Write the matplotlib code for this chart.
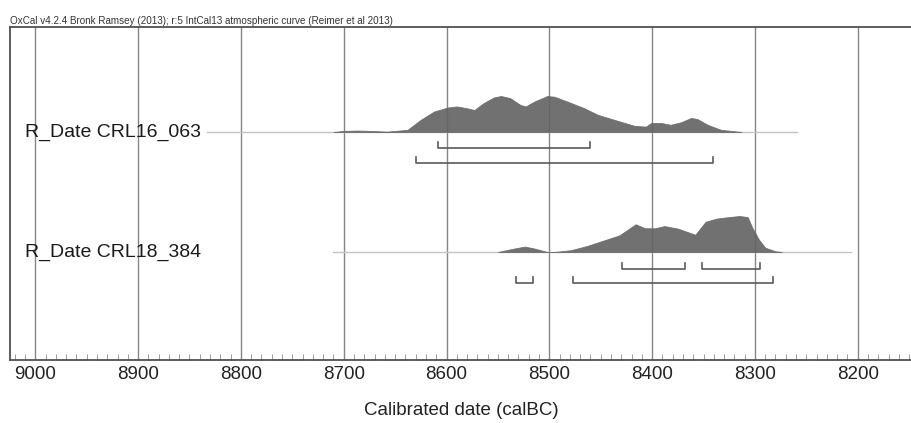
import matplotlib.pyplot as plt
import numpy as np
from matplotlib.ticker import MultipleLocator

plt.rcParams['font.family'] = ['Liberation Sans', 'DejaVu Sans']

title = "OxCal v4.2.4 Bronk Ramsey (2013); r:5 IntCal13 atmospheric curve (Reimer et al 2013)"
names = ["R_Date CRL16_063", "R_Date CRL18_384"]

# outline of each probability distribution (calBC, relative density)
years1 = [8710, 8700, 8687, 8674, 8658, 8638, 8625, 8612, 8599, 8590, 8580, 8573,
          8564, 8554, 8547, 8538, 8528, 8523, 8515, 8502, 8495, 8482, 8466, 8453,
          8437, 8417, 8406, 8401, 8391, 8382, 8372, 8362, 8356, 8346, 8333, 8313]
dens1 = [0, 0.03, 0.04, 0.03, 0.01, 0.06, 0.34, 0.57, 0.68, 0.71, 0.66, 0.61,
         0.80, 0.96, 1.0, 0.94, 0.75, 0.71, 0.84, 1.0, 0.98, 0.84, 0.66, 0.48,
         0.34, 0.17, 0.15, 0.25, 0.25, 0.20, 0.27, 0.39, 0.36, 0.20, 0.06, 0.0]

years2 = [8550, 8537, 8524, 8515, 8502, 8495, 8479, 8463, 8447, 8432, 8416, 8407,
          8397, 8388, 8375, 8366, 8358, 8348, 8337, 8325, 8315, 8307, 8303, 8296,
          8290, 8280, 8274]
dens2 = [0, 0.08, 0.15, 0.10, 0.0, 0.0, 0.05, 0.17, 0.32, 0.46, 0.77, 0.66,
         0.66, 0.72, 0.65, 0.56, 0.48, 0.84, 0.93, 0.97, 1.0, 0.97, 0.70, 0.34,
         0.12, 0.02, 0.0]

# extent of the thin baseline for each date
span1 = (8833, 8259)
span2 = (8710, 8207)

# 68.2% and 95.4% ranges
r68_1 = [(8608, 8460)]
r95_1 = [(8630, 8341)]
r68_2 = [(8429, 8368), (8351, 8295)]
r95_2 = [(8532, 8516), (8477, 8282)]

rows = [(years1, dens1, span1, r68_1, r95_1),
        (years2, dens2, span2, r68_2, r95_2)]

fig = plt.figure(figsize=(9.12, 4.23), dpi=100)
ax = fig.add_axes([10 / 912, 63 / 423, 902 / 912, 333 / 423])

# y axis in pixel-like units, top = 27, bottom = 360
ax.set_ylim(360, 27)
ax.set_xlim(9024.6, 8147.2)

for x in range(8200, 9001, 100):
    ax.axvline(x, color='#858585', lw=1.0, zorder=1)

for i, (yr, d, span, r68, r95) in enumerate(rows):
    base = 132 + 120 * i
    ax.plot(span, [base, base], color='#c4c4c4', lw=1.0, zorder=2)
    yr = np.array(yr)
    d = np.array(d)
    ax.fill_between(yr, base, base - 36 * d, color='#626262', alpha=0.9,
                    lw=0.6, edgecolor='#6a6a6a', zorder=3)
    for off, ranges in ((16.5, r68), (31, r95)):
        for a, b in ranges:
            ax.plot([a, a, b, b], [base + off - 6, base + off, base + off, base + off - 6],
                    color='#5a5a5a', lw=1.2, zorder=4)
    ax.text(9010, base, names[i], fontsize=14, va='center', ha='left',
            color='#1a1a1a', zorder=5)

ax.xaxis.set_major_locator(MultipleLocator(100))
ax.xaxis.set_minor_locator(MultipleLocator(10))
ax.tick_params(axis='x', which='major', length=0, pad=4, labelsize=13.5,
               labelcolor='#222222')
ax.tick_params(axis='x', which='minor', direction='in', length=4, color='#8a8a8a')
ax.set_yticks([])
for s in ['left', 'bottom', 'top']:
    ax.spines[s].set_color('#505050')
    ax.spines[s].set_linewidth(1.3)
ax.spines['right'].set_visible(False)

ax.set_xlabel("Calibrated date (calBC)", fontsize=13.5, labelpad=14, color='#222222')
fig.text(10 / 912, 1 - 26 / 423, title, fontsize=7.1, ha='left', va='bottom',
         color='#333333')

fig.savefig("out.png", dpi=100)
